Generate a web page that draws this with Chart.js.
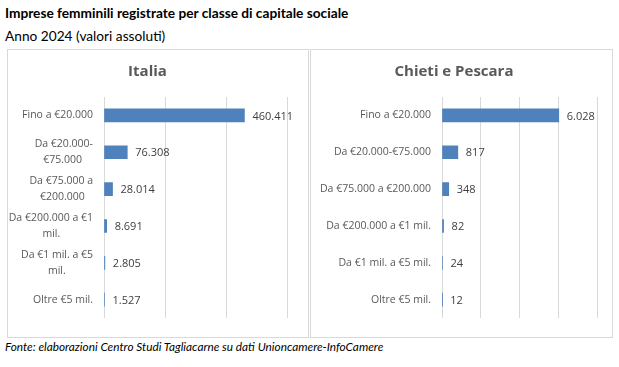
<!DOCTYPE html>
<html>
<head>
<meta charset="utf-8">
<script src="https://cdn.jsdelivr.net/npm/chart.js@4.4.1/dist/chart.umd.min.js"></script>
<style>
  body { margin: 0; background: #fff; width: 619px; height: 367px; position: relative; overflow: hidden; }
  .txt { position: absolute; left: 5px; font-family: Lato, sans-serif; color: #000; white-space: nowrap; }
  #title { top: 4px; font-size: 13.7px; font-weight: bold; line-height: 18px; }
  #subtitle { top: 27px; font-size: 13.7px; line-height: 18px; }
  #source { top: 339px; font-size: 11.8px; font-style: italic; line-height: 16px; }
  .panel { position: absolute; top: 49px; height: 289px; border: 1px solid #d9d9d9; box-sizing: border-box; }
  .panel canvas { display: block; }
</style>
</head>
<body>
<div class="txt" id="title">Imprese femminili registrate per classe di capitale sociale</div>
<div class="txt" id="subtitle">Anno 2024 (valori assoluti)</div>

<div class="panel" style="left:7px; width:302px;"><canvas id="italia" width="300" height="287"></canvas></div>
<div class="panel" style="left:310px; width:303px;"><canvas id="chieti" width="301" height="287"></canvas></div>

<div class="txt" id="source">Fonte: elaborazioni Centro Studi Tagliacarne su dati Unioncamere-InfoCamere</div>

<script>
// categories (Italia labels wrap like in the original)
const italiaLabels = [
  'Fino a €20.000',
  ['Da €20.000-', '€75.000'],
  ['Da €75.000 a', '€200.000'],
  ['Da €200.000 a €1', 'mil.'],
  ['Da €1 mil. a €5', 'mil.'],
  'Oltre €5 mil.'
];
const chietiLabels = [
  'Fino a €20.000',
  'Da €20.000-€75.000',
  'Da €75.000 a €200.000',
  'Da €200.000 a €1 mil.',
  'Da €1 mil. a €5 mil.',
  'Oltre €5 mil.'
];

// values
const italiaValues = [460411, 76308, 28014, 8691, 2805, 1527];
const chietiValues = [6028, 817, 348, 82, 24, 12];

// x axis ticks
const italiaTicks = { max: 600000, step: 200000 };
const chietiTicks = { max: 8000, step: 2000 };

const labelFont = { family: 'Open Sans', size: 10.5, lineHeight: 1.5 };
const barColor = '#4F81BD';

function fmt(v) {
  return v.toString().replace(/\B(?=(\d{3})+(?!\d))/g, '.');
}

// center shorter lines of a wrapped label under the longest one (right aligned block)
const measureCtx = document.createElement('canvas').getContext('2d');
function centerLines(label) {
  if (!Array.isArray(label)) return label;
  measureCtx.font = labelFont.size + 'px "' + labelFont.family + '"';
  const widths = label.map(l => measureCtx.measureText(l).width);
  const widest = Math.max(...widths);
  const sp = measureCtx.measureText(' ').width;
  return label.map((l, i) => l + ' '.repeat(Math.round((widest - widths[i]) / 2 / sp)));
}

// value labels next to the bars
const valueLabels = {
  id: 'valueLabels',
  afterDatasetsDraw(chart) {
    const ctx = chart.ctx;
    const meta = chart.getDatasetMeta(0);
    const data = chart.data.datasets[0].data;
    ctx.save();
    ctx.font = '11px "Open Sans"';
    ctx.fillStyle = '#404040';
    ctx.textAlign = 'left';
    ctx.textBaseline = 'middle';
    meta.data.forEach((bar, i) => {
      ctx.fillText(fmt(data[i]), bar.x + 8, bar.y + 1);
    });
    ctx.restore();
  }
};

function makeChart(id, title, labels, values, ticks, axisWidth, rightPad) {
  return new Chart(document.getElementById(id), {
    type: 'bar',
    data: {
      labels: labels,
      datasets: [{
        data: values,
        backgroundColor: barColor,
        barThickness: 13
      }]
    },
    options: {
      indexAxis: 'y',
      responsive: false,
      animation: false,
      layout: { padding: { left: 0, right: rightPad, top: 0, bottom: 12 } },
      plugins: {
        legend: { display: false },
        tooltip: { enabled: false },
        title: {
          display: true,
          text: title,
          color: '#595959',
          font: { family: 'Open Sans', size: 15, weight: 'bold' },
          padding: { top: 13, bottom: 16 }
        }
      },
      scales: {
        x: {
          min: 0,
          max: ticks.max,
          ticks: { display: false, stepSize: ticks.step },
          grid: { color: '#d9d9d9', drawTicks: false },
          border: { display: false },
          afterFit(scale) { scale.height = 0; }
        },
        y: {
          grid: { display: false, drawTicks: false },
          border: { display: false },
          ticks: {
            color: '#595959',
            font: labelFont,
            padding: 11,
            autoSkip: false,
            callback: function(value, index) { return centerLines(labels[index]); }
          },
          afterFit(scale) { scale.width = axisWidth; }
        }
      }
    },
    plugins: [valueLabels]
  });
}

makeChart('italia', 'Italia', italiaLabels, italiaValues, italiaTicks, 96, 21);
makeChart('chieti', 'Chieti e Pescara', chietiLabels, chietiValues, chietiTicks, 131, 15);
</script>
</body>
</html>
